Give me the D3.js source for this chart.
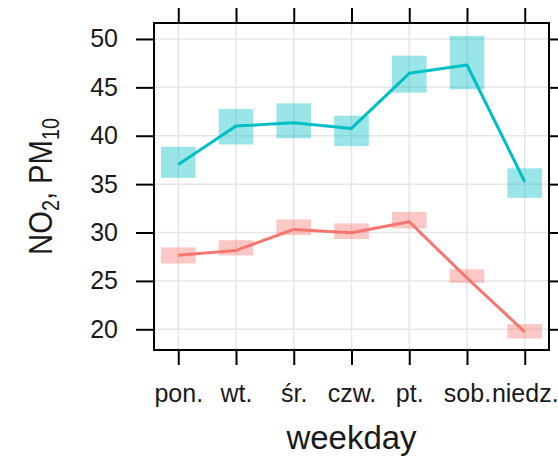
<!DOCTYPE html>
<html>
<head>
<meta charset="utf-8">
<script src="https://cdn.jsdelivr.net/npm/d3@7"></script>
<style>
  html, body { margin: 0; padding: 0; background: #fff; }
  svg { display: block; font-family: "Liberation Sans", Arial, Helvetica, sans-serif; }
</style>
</head>
<body>
<svg id="chart" width="558" height="462"></svg>
<script>
// Mean concentration by day of week with confidence intervals
const days = ["pon.", "wt.", "śr.", "czw.", "pt.", "sob.", "niedz."];

const no2Mean  = [27.66, 28.15, 30.32, 29.97, 31.11, 25.30, 19.73];
const no2Lower = [26.80, 27.63, 29.73, 29.32, 30.42, 24.80, 19.05];
const no2Upper = [28.46, 29.20, 31.35, 30.94, 32.14, 26.20, 20.53];

const pm10Mean  = [37.04, 41.00, 41.35, 40.76, 46.45, 47.31, 35.24];
const pm10Lower = [35.65, 39.10, 39.73, 38.93, 44.45, 44.80, 33.59];
const pm10Upper = [38.86, 42.76, 43.35, 42.07, 48.27, 50.31, 36.63];

const yTicks = [20, 25, 30, 35, 40, 45, 50];

const series = [
  { name: "NO2",  color: "#F8766D", mean: no2Mean,  lower: no2Lower,  upper: no2Upper },
  { name: "PM10", color: "#00BFC4", mean: pm10Mean, lower: pm10Lower, upper: pm10Upper }
];

const svg = d3.select("#chart");
const panel = { left: 154, top: 23, right: 549, bottom: 350 };

const x = d3.scaleLinear().domain([-0.42, 6.42]).range([panel.left, panel.right]);
const y = d3.scaleLinear().domain([17.86, 51.65]).range([panel.bottom, panel.top]);

// background grid
const grid = svg.append("g").attr("stroke", "#e6e6e6").attr("stroke-width", 1.5);
grid.selectAll("line.v").data(days).join("line")
  .attr("x1", (d, i) => x(i)).attr("x2", (d, i) => x(i))
  .attr("y1", panel.top).attr("y2", panel.bottom);
grid.selectAll("line.h").data(yTicks).join("line")
  .attr("y1", d => y(d)).attr("y2", d => y(d))
  .attr("x1", panel.left).attr("x2", panel.right);

// confidence interval boxes
const halfW = 0.3;
series.forEach(s => {
  svg.append("g").selectAll("rect").data(days).join("rect")
    .attr("x", (d, i) => x(i - halfW))
    .attr("width", (d, i) => x(i + halfW) - x(i - halfW))
    .attr("y", (d, i) => y(s.upper[i]))
    .attr("height", (d, i) => y(s.lower[i]) - y(s.upper[i]))
    .attr("fill", s.color).attr("fill-opacity", 0.4);
});

// mean lines
const line = d3.line().x((d, i) => x(i)).y(d => y(d));
series.forEach(s => {
  svg.append("path").datum(s.mean)
    .attr("d", line)
    .attr("fill", "none").attr("stroke", s.color).attr("stroke-width", 3)
    .attr("stroke-linejoin", "round");
});

// panel frame
svg.append("rect")
  .attr("x", panel.left).attr("y", panel.top)
  .attr("width", panel.right - panel.left).attr("height", panel.bottom - panel.top)
  .attr("fill", "none").attr("stroke", "#000").attr("stroke-width", 2);

// axes
const axisStyle = g => {
  g.select(".domain").remove();
  g.selectAll(".tick line").attr("stroke", "#000").attr("stroke-width", 2);
  g.selectAll(".tick text").attr("fill", "#1a1a1a").attr("font-size", 25)
    .attr("font-family", "Liberation Sans, Arial, sans-serif");
};

svg.append("g").attr("transform", `translate(0,${panel.bottom})`)
  .call(d3.axisBottom(x).tickValues(d3.range(days.length)).tickFormat(i => days[i])
    .tickSizeInner(15).tickSizeOuter(0).tickPadding(19))
  .call(axisStyle);

svg.append("g").attr("transform", `translate(0,${panel.top})`)
  .call(d3.axisTop(x).tickValues(d3.range(days.length)).tickFormat("")
    .tickSizeInner(15).tickSizeOuter(0))
  .call(axisStyle);

svg.append("g").attr("transform", `translate(${panel.left},0)`)
  .call(d3.axisLeft(y).tickValues(yTicks).tickSizeInner(18).tickSizeOuter(0).tickPadding(18))
  .call(axisStyle);

svg.append("g").attr("transform", `translate(${panel.right},0)`)
  .call(d3.axisRight(y).tickValues(yTicks).tickFormat("").tickSizeInner(15).tickSizeOuter(0))
  .call(axisStyle);

// axis titles
svg.append("text")
  .attr("x", (panel.left + panel.right) / 2).attr("y", 449)
  .attr("text-anchor", "middle").attr("font-size", 33).attr("fill", "#1a1a1a")
  .text("weekday");

const yTitle = svg.append("text")
  .attr("transform", `translate(52,${(panel.top + panel.bottom) / 2}) rotate(-90) scale(0.86,1)`)
  .attr("text-anchor", "middle").attr("font-size", 34).attr("fill", "#1a1a1a");
yTitle.append("tspan").text("NO");
yTitle.append("tspan").attr("font-size", 23).attr("dy", 7).text("2");
yTitle.append("tspan").attr("dy", -7).text(", PM");
yTitle.append("tspan").attr("font-size", 23).attr("dy", 7).text("10");
</script>
</body>
</html>
